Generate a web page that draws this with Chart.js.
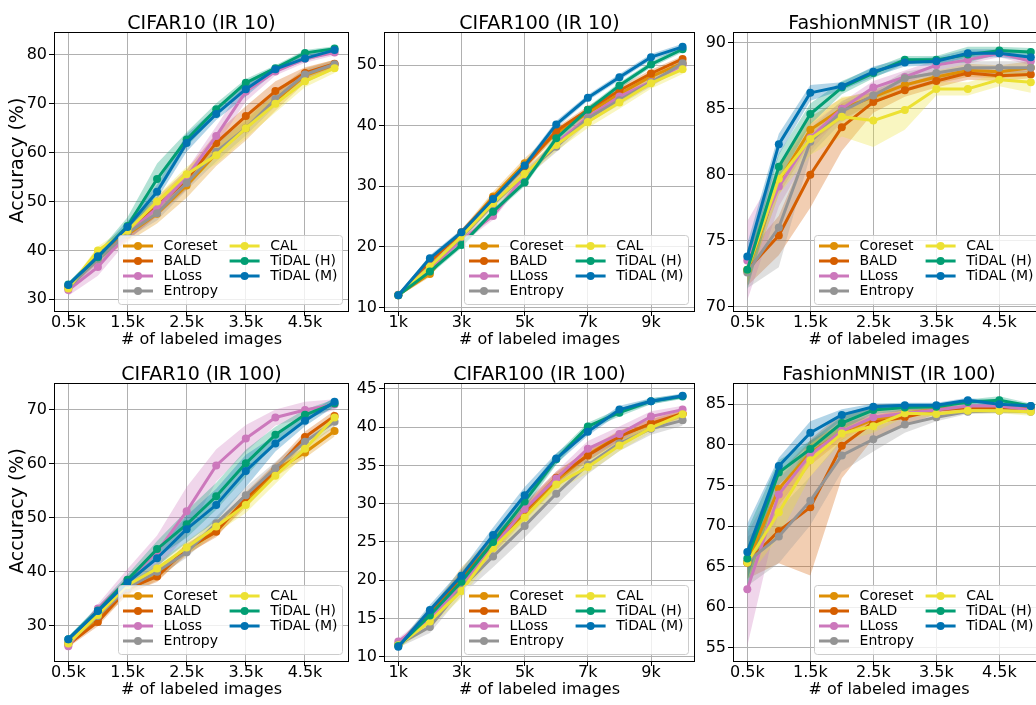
<!DOCTYPE html>
<html>
<head>
<meta charset="utf-8">
<script src="https://cdn.jsdelivr.net/npm/chart.js@4.4.1/dist/chart.umd.min.js"></script>
<style>
  html, body { margin: 0; padding: 0; background: #fff; width: 1036px; height: 705px; overflow: hidden; }
  body { position: relative; }
  canvas { position: absolute; }
</style>
</head>
<body>
<canvas id="c0"></canvas>
<canvas id="c1"></canvas>
<canvas id="c2"></canvas>
<canvas id="c3"></canvas>
<canvas id="c4"></canvas>
<canvas id="c5"></canvas>
<script>
// x values (thousands of labeled images)
const xSmall = [0.5, 1, 1.5, 2, 2.5, 3, 3.5, 4, 4.5, 5];
const xLarge = [1, 2, 3, 4, 5, 6, 7, 8, 9, 10];
const xTicksSmall = [0.5, 1.5, 2.5, 3.5, 4.5];
const xTicksLarge = [1, 3, 5, 7, 9];

const methods = ["Coreset", "BALD", "LLoss", "Entropy", "CAL", "TiDAL (H)", "TiDAL (M)"];
const colors = ["#de8f05", "#d55e00", "#cc78bc", "#949494", "#ece133", "#029e73", "#0173b2"];

// rows follow `methods`
const c10ir10Mean = [
  [32.5, 39.0, 43.2, 47.5, 53.3, 59.8, 65.0, 70.6, 75.8, 78.0],
  [32.6, 38.3, 43.6, 49.0, 54.5, 62.0, 67.5, 72.6, 76.3, 78.2],
  [31.9, 36.6, 43.5, 48.7, 55.0, 63.4, 72.5, 76.6, 79.2, 80.5],
  [32.3, 38.2, 43.5, 47.6, 53.8, 60.2, 65.0, 71.0, 76.0, 78.1],
  [32.2, 40.0, 44.0, 50.0, 55.6, 59.5, 65.0, 70.0, 74.6, 77.3],
  [33.0, 38.6, 45.0, 54.6, 62.7, 68.9, 74.3, 77.3, 80.4, 81.3],
  [32.9, 38.8, 44.8, 52.0, 62.0, 67.9, 73.0, 77.1, 79.3, 81.0]
];
const c10ir10Std = [
  [0.5, 1.0, 1.5, 2.0, 2.5, 2.5, 2.5, 2.0, 1.5, 1.0],
  [0.5, 1.0, 1.5, 2.0, 2.0, 2.0, 2.0, 2.0, 1.2, 0.8],
  [1.2, 1.8, 1.5, 1.5, 1.5, 2.0, 2.0, 0.8, 0.8, 0.6],
  [0.5, 1.0, 1.0, 1.5, 1.5, 2.0, 1.5, 1.5, 1.0, 0.8],
  [0.5, 0.8, 1.0, 1.2, 1.5, 1.8, 2.0, 1.8, 1.2, 1.0],
  [0.5, 1.0, 1.8, 3.2, 1.5, 1.2, 0.8, 0.6, 0.6, 0.5],
  [0.5, 0.8, 1.2, 1.5, 1.8, 1.2, 1.5, 0.6, 0.6, 0.5]
];

const c100ir10Mean = [
  [12.1, 15.5, 22.2, 28.3, 33.8, 38.7, 42.1, 45.2, 48.1, 50.3],
  [12.0, 17.5, 22.4, 28.0, 33.2, 39.1, 42.6, 45.8, 48.6, 51.0],
  [12.1, 16.5, 21.1, 25.1, 31.8, 37.1, 41.4, 44.8, 47.2, 50.0],
  [12.0, 16.8, 21.6, 27.0, 32.0, 36.5, 41.2, 44.2, 47.1, 50.3],
  [12.0, 16.7, 21.7, 27.2, 32.0, 36.8, 40.6, 43.8, 47.0, 49.3],
  [12.0, 15.9, 20.3, 25.8, 30.6, 37.9, 42.6, 46.6, 50.1, 52.6],
  [12.0, 18.1, 22.4, 27.9, 33.4, 40.2, 44.6, 48.0, 51.3, 53.0]
];
const c100ir10Std = [
  [0.3, 0.5, 0.6, 0.8, 0.8, 0.8, 0.7, 0.7, 0.7, 0.6],
  [0.3, 0.5, 0.5, 0.6, 0.7, 0.6, 0.6, 0.6, 0.6, 0.5],
  [0.3, 0.5, 0.6, 0.7, 0.7, 0.7, 0.7, 0.7, 0.7, 0.6],
  [0.3, 0.5, 0.6, 0.7, 0.8, 0.9, 0.8, 0.8, 0.7, 0.6],
  [0.3, 0.5, 0.6, 0.7, 0.8, 1.0, 1.0, 1.0, 0.9, 0.8],
  [0.3, 0.5, 0.5, 0.5, 0.6, 0.6, 0.5, 0.5, 0.5, 0.5],
  [0.3, 0.5, 0.5, 0.5, 0.6, 0.6, 0.5, 0.5, 0.5, 0.5]
];

const fmir10Mean = [
  [72.7, 79.5, 83.4, 85.0, 85.9, 86.8, 87.4, 87.9, 87.8, 88.1],
  [72.8, 75.4, 80.0, 83.6, 85.5, 86.4, 87.1, 87.7, 87.5, 87.6],
  [73.5, 79.1, 82.8, 85.0, 86.6, 87.4, 88.3, 88.7, 89.2, 88.6],
  [72.6, 76.0, 82.5, 84.8, 86.0, 87.3, 87.7, 88.1, 88.1, 88.1],
  [72.8, 79.7, 82.7, 84.4, 84.1, 84.9, 86.5, 86.5, 87.2, 87.0],
  [72.8, 80.6, 84.6, 86.6, 87.7, 88.7, 88.7, 89.1, 89.4, 89.3],
  [73.8, 82.3, 86.2, 86.7, 87.8, 88.5, 88.6, 89.2, 89.2, 88.9]
];
const fmir10Std = [
  [1.0, 1.0, 1.0, 0.8, 0.5, 0.5, 0.5, 0.5, 0.5, 0.5],
  [1.2, 1.5, 2.5, 1.8, 0.8, 0.5, 0.5, 0.5, 0.4, 0.3],
  [3.0, 1.5, 1.0, 0.5, 0.5, 0.5, 0.4, 0.3, 0.3, 0.3],
  [1.2, 3.0, 1.0, 0.8, 0.5, 0.5, 0.5, 0.5, 0.5, 0.5],
  [1.0, 1.2, 1.2, 1.5, 2.0, 1.5, 0.5, 0.5, 0.5, 0.8],
  [1.5, 1.0, 0.8, 0.5, 0.4, 0.3, 0.3, 0.6, 0.3, 0.3],
  [1.0, 0.8, 0.6, 0.3, 0.4, 0.3, 0.3, 0.3, 0.3, 0.3]
];

const c10ir100Mean = [
  [26.7, 31.4, 36.6, 39.4, 44.0, 47.7, 53.0, 58.8, 62.1, 66.1],
  [26.5, 30.7, 36.9, 39.1, 44.3, 47.4, 53.6, 58.9, 65.0, 68.9],
  [26.2, 33.2, 38.5, 43.7, 51.2, 59.7, 64.7, 68.6, 70.0, 71.0],
  [26.8, 31.8, 37.0, 40.0, 43.6, 49.0, 54.2, 59.2, 64.1, 67.8],
  [26.7, 32.0, 37.5, 40.6, 44.5, 48.4, 52.4, 57.8, 62.8, 68.6],
  [27.5, 32.8, 38.5, 44.2, 48.8, 54.0, 60.1, 65.4, 69.1, 71.2],
  [27.5, 32.7, 38.0, 42.5, 47.9, 52.4, 58.7, 63.8, 68.0, 71.5]
];
const c10ir100Std = [
  [0.5, 0.8, 1.0, 1.0, 1.0, 1.0, 1.2, 1.2, 1.0, 1.0],
  [0.5, 0.8, 1.0, 1.0, 1.0, 1.0, 1.2, 1.2, 1.0, 1.0],
  [0.5, 0.8, 2.0, 3.0, 4.5, 3.0, 2.5, 1.5, 1.5, 1.0],
  [0.5, 0.8, 1.0, 1.0, 1.0, 1.2, 1.5, 1.2, 1.0, 1.0],
  [0.5, 0.8, 1.0, 1.0, 1.2, 1.2, 1.5, 1.5, 1.0, 1.0],
  [0.5, 0.8, 1.0, 1.5, 2.5, 2.5, 2.5, 1.5, 1.0, 0.8],
  [0.5, 0.8, 1.0, 1.5, 2.5, 3.0, 3.0, 1.5, 1.0, 0.8]
];

const c100ir100Mean = [
  [11.6, 15.2, 20.2, 24.6, 28.8, 33.0, 36.4, 38.9, 40.4, 41.7],
  [11.5, 15.7, 20.3, 24.9, 29.1, 33.4, 36.3, 38.8, 40.5, 41.8],
  [12.0, 15.0, 19.4, 24.3, 29.3, 33.3, 37.2, 39.1, 41.4, 42.3],
  [11.6, 13.9, 19.0, 23.1, 27.1, 31.3, 35.1, 37.9, 39.8, 40.9],
  [11.5, 14.6, 18.6, 24.2, 28.2, 32.5, 34.8, 37.6, 39.9, 41.7],
  [11.4, 15.4, 19.8, 25.0, 30.3, 35.8, 40.1, 41.9, 43.4, 44.0],
  [11.3, 16.1, 20.6, 25.9, 31.1, 35.9, 39.4, 42.3, 43.4, 44.1]
];
const c100ir100Std = [
  [0.4, 0.8, 1.5, 1.2, 1.0, 1.0, 0.8, 0.7, 0.6, 0.5],
  [0.4, 0.7, 0.8, 0.9, 0.9, 0.8, 0.7, 0.7, 0.6, 0.5],
  [0.4, 0.7, 0.8, 0.9, 0.9, 0.9, 1.0, 1.0, 0.7, 0.5],
  [0.4, 0.8, 1.0, 1.4, 1.5, 1.5, 1.2, 1.0, 0.8, 0.7],
  [0.4, 0.8, 0.9, 1.0, 1.0, 0.9, 0.8, 0.7, 0.6, 0.5],
  [0.4, 0.6, 0.7, 0.8, 0.9, 0.7, 0.5, 0.5, 0.4, 0.3],
  [0.4, 0.7, 0.8, 1.0, 1.1, 0.7, 0.5, 0.5, 0.4, 0.3]
];

const fmir100Mean = [
  [65.5, 74.6, 79.0, 81.6, 83.1, 83.9, 84.4, 84.6, 84.6, 84.3],
  [65.5, 69.4, 72.3, 79.9, 82.8, 83.4, 84.3, 84.6, 84.6, 84.4],
  [62.2, 73.9, 78.8, 81.7, 83.4, 83.9, 84.3, 84.8, 84.8, 84.3],
  [65.6, 68.7, 73.1, 78.7, 80.7, 82.5, 83.4, 84.1, 84.2, 84.1],
  [65.5, 71.7, 78.1, 81.4, 82.3, 83.9, 83.8, 84.2, 84.2, 84.1],
  [66.0, 76.6, 79.5, 82.7, 84.3, 84.6, 84.7, 85.3, 85.5, 84.8],
  [66.8, 77.4, 81.5, 83.7, 84.7, 84.9, 84.9, 85.5, 85.0, 84.8]
];
const fmir100Std = [
  [2.0, 2.0, 1.5, 1.0, 0.5, 0.5, 0.3, 0.3, 0.3, 0.3],
  [2.0, 4.0, 8.4, 4.0, 2.0, 1.0, 0.5, 0.3, 0.3, 0.3],
  [7.0, 2.0, 1.0, 0.8, 0.5, 0.5, 0.3, 0.3, 0.3, 0.3],
  [3.0, 3.3, 3.0, 2.0, 1.5, 1.0, 0.5, 0.3, 0.3, 0.3],
  [2.0, 3.0, 2.0, 1.0, 0.8, 0.5, 0.3, 0.3, 0.3, 0.5],
  [3.5, 1.5, 1.0, 0.8, 0.5, 0.4, 0.3, 0.3, 0.5, 0.3],
  [3.5, 1.0, 1.4, 0.7, 0.4, 0.3, 0.3, 0.3, 0.3, 0.3]
];

const yTicksC10ir10 = [30, 40, 50, 60, 70, 80];
const yTicksC100ir10 = [10, 20, 30, 40, 50];
const yTicksFmir10 = [70, 75, 80, 85, 90];
const yTicksC10ir100 = [30, 40, 50, 60, 70];
const yTicksC100ir100 = [10, 15, 20, 25, 30, 35, 40, 45];
const yTicksFmir100 = [55, 60, 65, 70, 75, 80, 85];

// layout of the 2x3 grid (plot area edges in page pixels)
const colGeom = [
  { left: 54, right: 349, axisW: 54 },
  { left: 384, right: 695, axisW: 42 },
  { left: 733, right: 1045, axisW: 42 }
];
const rowGeom = [
  { top: 32, bottom: 311, canvasTop: 0 },
  { top: 383, bottom: 661, canvasTop: 350 }
];
const xAxisH = 44;
const rightPad = 6;

const panels = [
  { title: "CIFAR10 (IR 10)", xs: xSmall, xTicks: xTicksSmall, xMin: 0.258, xMax: 5.244, yMin: 27.6, yMax: 84.7, yTicks: yTicksC10ir10, mean: c10ir10Mean, std: c10ir10Std },
  { title: "CIFAR100 (IR 10)", xs: xLarge, xTicks: xTicksLarge, xMin: 0.547, xMax: 10.393, yMin: 9.4, yMax: 55.45, yTicks: yTicksC100ir10, mean: c100ir10Mean, std: c100ir10Std },
  { title: "FashionMNIST (IR 10)", xs: xSmall, xTicks: xTicksSmall, xMin: 0.273, xMax: 5.225, yMin: 69.68, yMax: 90.81, yTicks: yTicksFmir10, mean: fmir10Mean, std: fmir10Std },
  { title: "CIFAR10 (IR 100)", xs: xSmall, xTicks: xTicksSmall, xMin: 0.258, xMax: 5.244, yMin: 23.45, yMax: 75.0, yTicks: yTicksC10ir100, mean: c10ir100Mean, std: c10ir100Std },
  { title: "CIFAR100 (IR 100)", xs: xLarge, xTicks: xTicksLarge, xMin: 0.547, xMax: 10.393, yMin: 9.44, yMax: 45.78, yTicks: yTicksC100ir100, mean: c100ir100Mean, std: c100ir100Std },
  { title: "FashionMNIST (IR 100)", xs: xSmall, xTicks: xTicksSmall, xMin: 0.273, xMax: 5.225, yMin: 53.36, yMax: 87.63, yTicks: yTicksFmir100, mean: fmir100Mean, std: fmir100Std }
];

Chart.defaults.font.family = "'DejaVu Sans', sans-serif";
Chart.defaults.color = "#000";

function withAlpha(hex, a) {
  const n = parseInt(hex.slice(1), 16);
  return `rgba(${(n >> 16) & 255}, ${(n >> 8) & 255}, ${n & 255}, ${a})`;
}

// axes frame, y label and a matplotlib-like legend in the lower right corner
const frameLegend = {
  id: "frameLegend",
  afterDatasetsDraw(chart, args, opts) {
    const { ctx, chartArea: a } = chart;
    ctx.save();
    ctx.strokeStyle = "#000";
    ctx.lineWidth = 1;
    ctx.strokeRect(a.left + 0.5, a.top + 0.5, a.right - a.left - 1, a.bottom - a.top);

    if (opts.yLabel) {
      ctx.save();
      ctx.translate(18, (a.top + a.bottom) / 2 - 11);
      ctx.rotate(-Math.PI / 2);
      ctx.font = "19px 'DejaVu Sans'";
      ctx.textAlign = "center";
      ctx.textBaseline = "middle";
      ctx.fillStyle = "#000";
      ctx.fillText(opts.yLabel, 0, 0);
      ctx.restore();
    }

    const w = 224, h = 69;
    const bx = a.right - 7 - w;
    const by = a.bottom - 7 - h;
    ctx.beginPath();
    ctx.roundRect(bx + 0.5, by + 0.5, w, h, 3);
    ctx.fillStyle = "rgba(255,255,255,0.8)";
    ctx.fill();
    ctx.strokeStyle = "#cccccc";
    ctx.stroke();

    ctx.font = "14px 'DejaVu Sans'";
    ctx.textBaseline = "middle";
    ctx.textAlign = "left";
    methods.forEach((name, k) => {
      const col = k < 4 ? 0 : 1;
      const row = k < 4 ? k : k - 4;
      const x0 = bx + 5 + col * 106.6;
      const y = by + 11 + row * 15;
      ctx.strokeStyle = colors[k];
      ctx.lineWidth = 3;
      ctx.beginPath();
      ctx.moveTo(x0, y);
      ctx.lineTo(x0 + 30, y);
      ctx.stroke();
      ctx.fillStyle = colors[k];
      ctx.beginPath();
      ctx.arc(x0 + 15, y, 4, 0, Math.PI * 2);
      ctx.fill();
      ctx.fillStyle = "#000";
      ctx.fillText(name, x0 + 40.6, y + 0.5);
    });
    ctx.restore();
  }
};

panels.forEach((p, i) => {
  const col = colGeom[i % 3];
  const row = rowGeom[Math.floor(i / 3)];
  const canvas = document.getElementById("c" + i);
  const cw = col.axisW + (col.right - col.left) + rightPad;
  const ch = row.bottom - row.canvasTop + xAxisH;
  canvas.width = cw;
  canvas.height = ch;
  canvas.style.left = (col.left - col.axisW) + "px";
  canvas.style.top = row.canvasTop + "px";

  const datasets = [];
  methods.forEach((name, k) => {
    const m = p.mean[k];
    const s = p.std[k];
    datasets.push({
      label: name + " hi",
      data: p.xs.map((x, j) => ({ x, y: m[j] + s[j] })),
      borderColor: "transparent",
      borderWidth: 0,
      pointRadius: 0,
      backgroundColor: withAlpha(colors[k], 0.3),
      fill: "+1",
      order: 30 - k
    });
    datasets.push({
      label: name + " lo",
      data: p.xs.map((x, j) => ({ x, y: m[j] - s[j] })),
      borderColor: "transparent",
      borderWidth: 0,
      pointRadius: 0,
      fill: false,
      order: 30 - k
    });
  });
  methods.forEach((name, k) => {
    datasets.push({
      label: name,
      data: p.xs.map((x, j) => ({ x, y: p.mean[k][j] })),
      borderColor: colors[k],
      backgroundColor: colors[k],
      borderWidth: 3,
      borderJoinStyle: "round",
      pointRadius: 4,
      pointBorderWidth: 0,
      pointBackgroundColor: colors[k],
      fill: false,
      order: 10 - k
    });
  });

  new Chart(canvas, {
    type: "line",
    data: { datasets },
    plugins: [frameLegend],
    options: {
      responsive: false,
      animation: false,
      events: [],
      layout: { padding: { left: 0, right: rightPad, top: 0, bottom: 0 } },
      plugins: {
        legend: { display: false },
        tooltip: { enabled: false },
        frameLegend: { yLabel: i % 3 === 0 ? "Accuracy (%)" : null },
        title: {
          display: true,
          fullSize: false,
          text: p.title,
          font: { size: 19, weight: "normal", lineHeight: 0.8 },
          color: "#000",
          padding: { top: row.top - row.canvasTop - 15.8, bottom: 0.6 }
        }
      },
      scales: {
        x: {
          type: "linear",
          min: p.xMin,
          max: p.xMax,
          afterBuildTicks: (scale) => { scale.ticks = p.xTicks.map((v) => ({ value: v })); },
          afterFit: (scale) => { scale.height = xAxisH; },
          ticks: {
            callback: (v) => v + "k",
            font: { size: 16, lineHeight: 1 },
            padding: -1.5,
            maxRotation: 0,
            autoSkip: false,
            color: "#000"
          },
          grid: { color: "#b0b0b0", lineWidth: 1, tickColor: "#000", tickLength: 5 },
          border: { display: false },
          title: {
            display: true,
            text: "# of labeled images",
            font: { size: 16 },
            color: "#000",
            padding: { top: 0, bottom: 5.9 }
          }
        },
        y: {
          min: p.yMin,
          max: p.yMax,
          afterBuildTicks: (scale) => { scale.ticks = p.yTicks.map((v) => ({ value: v })); },
          afterFit: (scale) => { scale.width = col.axisW; },
          ticks: { font: { size: 16 }, padding: 2, color: "#000", autoSkip: false },
          grid: { color: "#b0b0b0", lineWidth: 1, tickColor: "#000", tickLength: 5 },
          border: { display: false }
        }
      }
    }
  });
});
</script>
</body>
</html>
